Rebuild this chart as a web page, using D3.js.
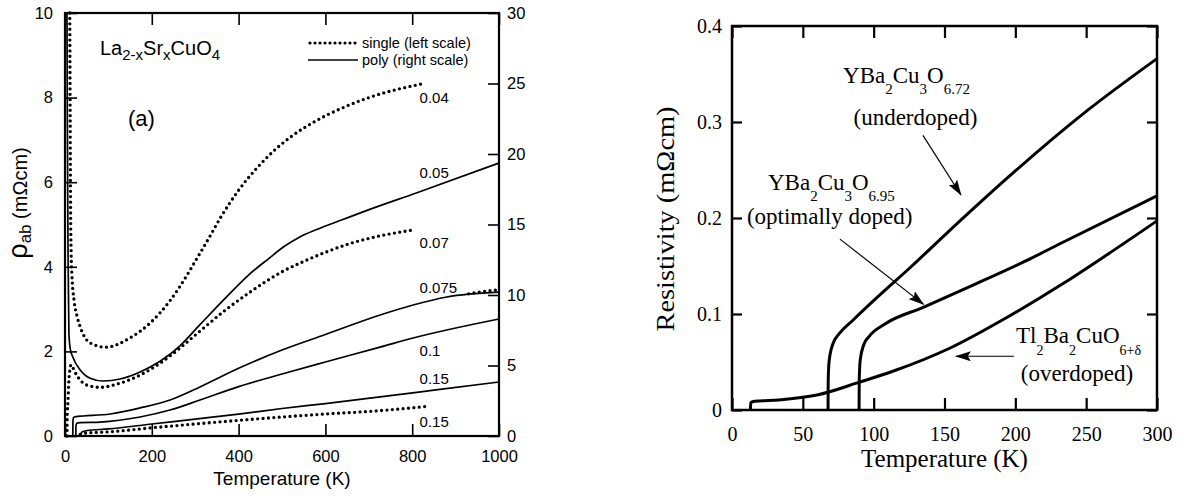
<!DOCTYPE html>
<html>
<head>
<meta charset="utf-8">
<script src="https://cdn.jsdelivr.net/npm/d3@7"></script>
<style>
  html, body { margin: 0; padding: 0; background: #fff; }
  svg { display: block; }
</style>
</head>
<body>
<svg id="fig" width="1184" height="498"></svg>
<script>
// ---------------- Panel (a): La2-xSrxCuO4 ----------------
const tempTicksA = [0, 200, 400, 600, 800, 1000];
const rhoTicksLeftA = [0, 2, 4, 6, 8, 10];
const rhoTicksRightA = [0, 5, 10, 15, 20, 25, 30];

// single crystals, [T (K), rho_ab (mOhm cm)] on the left scale
const single004 = [[11,10],[12,7.5],[13,5.2],[14,4.4],[16,3.8],[21,3.2],[28,2.82],[35,2.58],[58,2.2],[94,2.1],[150,2.32],[196,2.67],[242,3.2],[281,3.8],[304,4.2],[326,4.58],[360,5.19],[400,5.81],[440,6.31],[480,6.73],[520,7.07],[580,7.46],[640,7.76],[700,8.0],[830,8.34]];
const single007 = [[4.5,0],[5,0.4],[7,0.85],[9,1.32],[11,1.55],[14,1.68],[18,1.62],[23,1.51],[39,1.28],[58,1.18],[81,1.15],[127,1.25],[173,1.44],[219,1.72],[265,2.08],[311,2.48],[370,2.98],[426,3.4],[470,3.7],[503,3.9],[540,4.08],[580,4.26],[657,4.55],[730,4.74],[802,4.87]];
const single0075 = [[930,3.36],[960,3.41],[995,3.45]];
const single015 = [[35,0.04],[50,0.07],[104,0.1],[196,0.19],[295,0.28],[400,0.37],[500,0.45],[600,0.52],[726,0.6],[834,0.7]];

// polycrystals, [T (K), rho (mOhm cm)] on the right scale
const poly005 = [[4.5,30],[5.5,22],[7,13],[9,7.3],[12,6.2],[18,5.6],[35,4.68],[58,4.1],[88,3.9],[127,4.04],[173,4.54],[219,5.3],[265,6.4],[311,7.9],[370,9.8],[426,11.5],[470,12.6],[503,13.4],[540,14.1],[580,14.65],[640,15.35],[696,16.0],[811,17.25],[1000,19.36]];
const poly0075 = [[18,0],[18.3,1.0],[19.5,1.3],[25,1.38],[42,1.42],[104,1.56],[173,1.99],[242,2.55],[311,3.48],[400,4.8],[500,6.1],[600,7.2],[726,8.58],[802,9.29],[880,9.86],[1000,10.2]];
const poly01 = [[25,0],[25.3,0.7],[27,0.9],[35,0.95],[81,0.99],[173,1.35],[242,1.84],[311,2.55],[400,3.5],[500,4.4],[600,5.25],[726,6.3],[802,6.95],[1000,8.3]];
const poly015 = [[37,0],[37.3,0.2],[40,0.3],[50,0.38],[100,0.5],[200,0.85],[300,1.2],[400,1.55],[500,1.95],[600,2.3],[726,2.77],[850,3.25],[1000,3.83]];

// doping labels: [text, T, rho on left scale]
const dopingLabels = [["0.04",817,7.87],["0.05",817,6.1],["0.07",817,4.44],["0.075",817,3.38],["0.1",817,1.89],["0.15",817,1.23],["0.15",817,0.21]];

// ---------------- Panel (b): YBCO / Tl2201 ----------------
const tempTicksB = [0, 50, 100, 150, 200, 250, 300];
const resTicksB = [0, 0.1, 0.2, 0.3, 0.4];

const ybco672 = [[67.8,0],[67.9,0.03],[68.5,0.05],[71,0.068],[76,0.08],[85,0.093],[103,0.118],[127,0.15],[150,0.182],[175,0.216],[200,0.249],[250,0.311],[300,0.366]];
const ybco695 = [[89.7,0],[89.8,0.03],[90.5,0.052],[93,0.068],[97,0.077],[108,0.0896],[135,0.107],[167,0.128],[207,0.155],[234,0.175],[300,0.223]];
const tl2201 = [[13,0],[13.2,0.0075],[16,0.009],[33,0.0105],[60,0.0156],[90,0.029],[114,0.0406],[154,0.0646],[194,0.0964],[234,0.132],[265,0.162],[300,0.197]];

const svg = d3.select("#fig");
const SANS = "'Liberation Sans', Arial, Helvetica, sans-serif";
const SERIF = "'Liberation Serif', 'Times New Roman', Times, serif";

// arrowhead marker for the annotations
svg.append("defs").append("marker")
  .attr("id", "head").attr("markerUnits", "userSpaceOnUse")
  .attr("viewBox", "0 0 16 10").attr("refX", 15).attr("refY", 5)
  .attr("markerWidth", 16).attr("markerHeight", 10).attr("orient", "auto")
  .append("path").attr("d", "M0,0 L16,5 L0,10 L3,5 Z").attr("fill", "#000");

// text with sub-scripted parts: parts = [[string, isSub], ...]
function richText(g, x, y, parts, o) {
  const t = g.append("text").attr("x", x).attr("y", y)
    .attr("font-size", o.size).attr("text-anchor", o.anchor || "start").attr("fill", "#000");
  let shift = 0;
  parts.forEach(([s, sub]) => {
    const target = sub ? o.subDy : 0;
    t.append("tspan").attr("dy", target - shift)
      .attr("font-size", sub ? o.subSize : o.size).text(s);
    shift = target;
  });
  return t;
}

function styleAxis(g, fontSize, family, width) {
  g.attr("font-size", fontSize).attr("font-family", family);
  g.select(".domain").remove();
  g.selectAll(".tick line").attr("stroke", "#000").attr("stroke-width", width);
  g.selectAll(".tick text").attr("fill", "#000");
}

const curve = d3.curveMonotoneX;

// ======== panel (a) ========
const xA = d3.scaleLinear().domain([0, 1000]).range([65, 499]);
const yAL = d3.scaleLinear().domain([0, 10]).range([436, 13]);
const yAR = d3.scaleLinear().domain([0, 30]).range([436, 13]);
const gA = svg.append("g").attr("font-family", SANS);
const intFmt = d3.format("d");

gA.append("g").attr("transform", `translate(0,${yAL(0)})`)
  .call(d3.axisBottom(xA).tickValues(tempTicksA).tickSize(-12).tickSizeOuter(0).tickPadding(14).tickFormat(intFmt))
  .call(g => styleAxis(g, 16.5, SANS, 1.6));
gA.append("g").attr("transform", `translate(0,${yAL(10)})`)
  .call(d3.axisTop(xA).tickValues(tempTicksA).tickSize(-12).tickSizeOuter(0).tickFormat(""))
  .call(g => styleAxis(g, 16.5, SANS, 1.6));
gA.append("g").attr("transform", `translate(${xA(0)},0)`)
  .call(d3.axisLeft(yAL).tickValues(rhoTicksLeftA).tickSize(-12).tickSizeOuter(0).tickPadding(12).tickFormat(intFmt))
  .call(g => styleAxis(g, 16.5, SANS, 1.6));
gA.append("g").attr("transform", `translate(${xA(1000)},0)`)
  .call(d3.axisRight(yAR).tickValues(rhoTicksRightA).tickSize(-11).tickSizeOuter(0).tickPadding(8).tickFormat(intFmt))
  .call(g => styleAxis(g, 16.5, SANS, 1.6));

gA.append("rect").attr("x", xA(0)).attr("y", yAL(10))
  .attr("width", xA(1000) - xA(0)).attr("height", yAL(0) - yAL(10))
  .attr("fill", "none").attr("stroke", "#000").attr("stroke-width", 2.2);

const lineAL = d3.line().x(d => xA(d[0])).y(d => yAL(d[1])).curve(curve);
const lineAR = d3.line().x(d => xA(d[0])).y(d => yAR(d[1])).curve(curve);

const plotA = gA.append("g");
[poly005, poly0075, poly01, poly015].forEach(s => {
  plotA.append("path").attr("d", lineAR(s)).attr("fill", "none")
    .attr("stroke", "#000").attr("stroke-width", 1.7);
});
[single004, single007, single015, single0075].forEach(s => {
  plotA.append("path").attr("d", lineAL(s)).attr("fill", "none")
    .attr("stroke", "#000").attr("stroke-width", 3.3)
    .attr("stroke-linecap", "round").attr("stroke-dasharray", "0,5.4");
});

dopingLabels.forEach(([txt, T, r]) => {
  gA.append("text").attr("x", xA(T)).attr("y", yAL(r))
    .attr("font-size", 15).attr("fill", "#000").text(txt);
});

// legend
const legA = gA.append("g");
legA.append("line").attr("x1", 310).attr("x2", 358).attr("y1", 43).attr("y2", 43)
  .attr("stroke", "#000").attr("stroke-width", 3.2).attr("stroke-linecap", "round")
  .attr("stroke-dasharray", "0,5");
legA.append("line").attr("x1", 308).attr("x2", 358).attr("y1", 60).attr("y2", 60)
  .attr("stroke", "#000").attr("stroke-width", 1.6);
legA.append("text").attr("x", 362).attr("y", 48).attr("font-size", 14.5).text("single (left scale)");
legA.append("text").attr("x", 362).attr("y", 65).attr("font-size", 14.5).text("poly (right scale)");

richText(gA, 100, 55, [["La", false], ["2-x", true], ["Sr", false], ["x", true], ["CuO", false], ["4", true]],
  { size: 20, subSize: 15, subDy: 5 });
gA.append("text").attr("x", 128).attr("y", 126).attr("font-size", 22).text("(a)");

gA.append("text").attr("x", (xA(0) + xA(1000)) / 2).attr("y", 485)
  .attr("text-anchor", "middle").attr("font-size", 19).text("Temperature (K)");

const yLab = gA.append("text").attr("transform", "translate(27,203) rotate(-90)")
  .attr("text-anchor", "middle").attr("font-size", 20);
yLab.append("tspan").attr("font-size", 27).text("ρ");
yLab.append("tspan").attr("font-size", 17).attr("dy", 4).text("ab");
yLab.append("tspan").attr("dy", -4).text(" (mΩcm)");

// ======== panel (b) ========
const xB = d3.scaleLinear().domain([0, 300]).range([732, 1157]);
const yB = d3.scaleLinear().domain([0, 0.4]).range([410, 26]);
const gB = svg.append("g").attr("font-family", SERIF);
const fmtB = d => d === 0 ? "0" : d3.format(".1f")(d);

gB.append("g").attr("transform", `translate(0,${yB(0)})`)
  .call(d3.axisBottom(xB).tickValues(tempTicksB).tickSize(-12).tickSizeOuter(0).tickPadding(17).tickFormat(intFmt))
  .call(g => styleAxis(g, 20, SERIF, 2.2));
gB.append("g").attr("transform", `translate(0,${yB(0.4)})`)
  .call(d3.axisTop(xB).tickValues(tempTicksB).tickSize(-12).tickSizeOuter(0).tickFormat(""))
  .call(g => styleAxis(g, 20, SERIF, 2.2));
gB.append("g").attr("transform", `translate(${xB(0)},0)`)
  .call(d3.axisLeft(yB).tickValues(resTicksB).tickSize(-10).tickSizeOuter(0).tickPadding(10).tickFormat(fmtB))
  .call(g => styleAxis(g, 20, SERIF, 2.2));
gB.append("g").attr("transform", `translate(${xB(300)},0)`)
  .call(d3.axisRight(yB).tickValues(resTicksB).tickSize(-10).tickSizeOuter(0).tickFormat(""))
  .call(g => styleAxis(g, 20, SERIF, 2.2));

gB.append("rect").attr("x", xB(0)).attr("y", yB(0.4))
  .attr("width", xB(300) - xB(0)).attr("height", yB(0) - yB(0.4))
  .attr("fill", "none").attr("stroke", "#000").attr("stroke-width", 2.5);

const lineB = d3.line().x(d => xB(d[0])).y(d => yB(d[1])).curve(curve);
[ybco672, ybco695, tl2201].forEach(s => {
  gB.append("path").attr("d", lineB(s)).attr("fill", "none")
    .attr("stroke", "#000").attr("stroke-width", 3).attr("stroke-linejoin", "round");
});

// annotations
const ann = { size: 23, subSize: 15, subDy: 11 };
richText(gB, xB(78.4), yB(0.341), [["YBa", false], ["2", true], ["Cu", false], ["3", true], ["O", false], ["6.72", true]], ann);
gB.append("text").attr("x", xB(129.5)).attr("y", yB(0.297)).attr("text-anchor", "middle")
  .attr("font-size", 23).text("(underdoped)");
richText(gB, xB(25.4), yB(0.229), [["YBa", false], ["2", true], ["Cu", false], ["3", true], ["O", false], ["6.95", true]], ann);
gB.append("text").attr("x", xB(68.9)).attr("y", yB(0.194)).attr("text-anchor", "middle")
  .attr("font-size", 23).text("(optimally doped)");
richText(gB, xB(200.5), yB(0.0698), [["Tl", false], ["2", true], ["Ba", false], ["2", true], ["CuO", false], ["6+δ", true]],
  { size: 23, subSize: 14, subDy: 12 });
gB.append("text").attr("x", xB(243.5)).attr("y", yB(0.030)).attr("text-anchor", "middle")
  .attr("font-size", 23).text("(overdoped)");

const arrows = [
  [[134.8, 0.286], [161.6, 0.224]],
  [[76.2, 0.178], [135.2, 0.110]],
  [[199, 0.056], [158, 0.056]]
];
arrows.forEach(([a, b]) => {
  gB.append("line").attr("x1", xB(a[0])).attr("y1", yB(a[1]))
    .attr("x2", xB(b[0])).attr("y2", yB(b[1]))
    .attr("stroke", "#000").attr("stroke-width", 1.2).attr("marker-end", "url(#head)");
});

gB.append("text").attr("x", (xB(0) + xB(300)) / 2).attr("y", 467)
  .attr("text-anchor", "middle").attr("font-size", 25).text("Temperature (K)");
gB.append("text").attr("transform", "translate(674,219) rotate(-90)")
  .attr("text-anchor", "middle").attr("font-size", 25)
  .attr("textLength", 225).attr("lengthAdjust", "spacingAndGlyphs")
  .text("Resistivity (mΩcm)");
</script>
</body>
</html>
